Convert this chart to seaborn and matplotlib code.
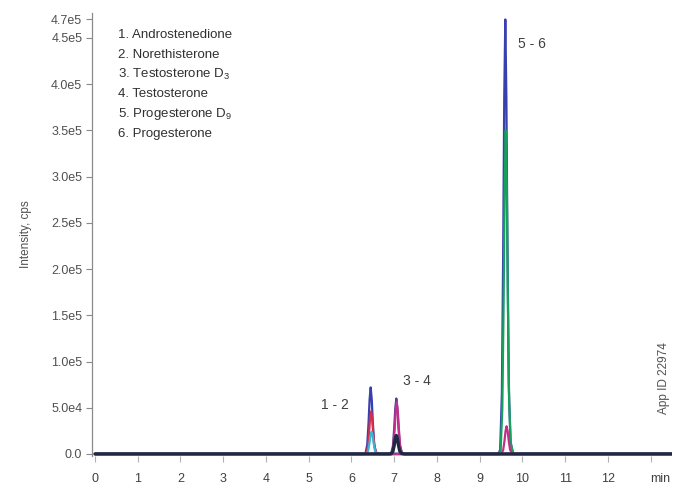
import numpy as np
import pandas as pd
import matplotlib
matplotlib.use("Agg")
import matplotlib.pyplot as plt
import seaborn as sns

# Compound list shown in the key
compounds = [
    "1. Androstenedione",
    "2. Norethisterone",
    "3. Testosterone D$_3$",
    "4. Testosterone",
    "5. Progesterone D$_9$",
    "6. Progesterone",
]

# XIC traces: retention time (min), apex intensity (cps), colour
trace_ids = ["A1", "A2", "A3", "B1", "B2", "C1", "C2", "C3", "B3"]
trace_rt = [6.45, 6.46, 6.47, 7.05, 7.06, 9.60, 9.61, 9.63, 7.05]
trace_height = [7.2e4, 4.6e4, 2.4e4, 6.0e4, 5.6e4, 4.7e5, 3.5e5, 3.0e4, 2.0e4]
trace_color = ["#3a3fae", "#d2304a", "#3fb4d2", "#5a3c9e", "#c0308a",
               "#3a3fae", "#17a05c", "#c0308a", "#1e2840"]

# Peak shape: time offsets from apex (min) and relative intensity
peak_offset = [-0.16, -0.12, -0.08, -0.05, -0.025, 0.0, 0.025, 0.05, 0.08, 0.12, 0.18]
peak_fraction = [0.0, 0.01, 0.14, 0.46, 0.82, 1.0, 0.82, 0.48, 0.16, 0.03, 0.0]

run_start, run_end = 0.0, 13.5

# Peak group labels
group_labels = ["1 - 2", "3 - 4", "5 - 6"]
group_x = [5.61, 7.53, 10.22]
group_y = [5.3e4, 7.9e4, 4.44e5]

y_ticks = [0, 5e4, 1e5, 1.5e5, 2e5, 2.5e5, 3e5, 3.5e5, 4e5, 4.5e5, 4.7e5]
y_ticklabels = ["0.0", "5.0e4", "1.0e5", "1.5e5", "2.0e5", "2.5e5",
                "3.0e5", "3.5e5", "4.0e5", "4.5e5", "4.7e5"]
x_ticks = list(range(0, 14))
x_ticklabels = [str(v) for v in range(0, 13)] + ["min"]

rows = []
for tid, rt, h in zip(trace_ids, trace_rt, trace_height):
    rows.append((tid, run_start, 0.0))
    for off, frac in zip(peak_offset, peak_fraction):
        rows.append((tid, rt + off, h * frac))
    rows.append((tid, run_end, 0.0))
df = pd.DataFrame(rows, columns=["trace", "time", "intensity"])

sns.set_style("ticks")
plt.rcParams["font.family"] = ["Liberation Sans", "DejaVu Sans"]
plt.rcParams["mathtext.fontset"] = "custom"
plt.rcParams["mathtext.rm"] = "Liberation Sans"

fig = plt.figure(figsize=(6.74, 4.84), dpi=100)
ax = fig.add_axes([92 / 674, 1 - 456 / 484, (672 - 92) / 674, (456 - 13) / 484])

sns.lineplot(data=df, x="time", y="intensity", hue="trace", hue_order=trace_ids,
             palette=dict(zip(trace_ids, trace_color)), estimator=None,
             sort=False, legend=False, linewidth=1.6, ax=ax)
ax.lines[-1].set_linewidth(2.4)

ax.set_xlim(-0.07, 13.5)
ax.set_ylim(-2200, 4.77e5)
for s in ["top", "right", "bottom"]:
    ax.spines[s].set_visible(False)
ax.spines["left"].set_color("#8a8a8a")
ax.spines["left"].set_linewidth(0.9)

ax.set_yticks(y_ticks)
ax.set_yticklabels(y_ticklabels)
ax.set_xticks(x_ticks)
ax.set_xticklabels(x_ticklabels)
ax.tick_params(axis="y", direction="out", length=4, width=0.8, color="#8a8a8a",
               labelsize=9, labelcolor="#505050", pad=3)
ax.tick_params(axis="x", direction="out", length=4, width=0.8, color="#b0b0b0",
               labelsize=9, labelcolor="#404040", pad=8)
xl = ax.get_xticklabels()
xl[-1].set_horizontalalignment("left")

ax.set_xlabel("")
ax.set_ylabel("Intensity, cps", fontsize=8.5, color="#505050", labelpad=14)

for lab, gx, gy in zip(group_labels, group_x, group_y):
    ax.text(gx, gy, lab, ha="center", va="center", fontsize=10, color="#404040")

for i, name in enumerate(compounds):
    fig.text(118 / 674, 1 - (35 + i * 19.8) / 484, name, ha="left", va="center",
             fontsize=9.5, color="#303030")

fig.text(664 / 674, 1 - 378 / 484, "App ID 22974", rotation=90, ha="center",
         va="center", fontsize=8.5, color="#505050")

fig.savefig("out.png", dpi=100)
